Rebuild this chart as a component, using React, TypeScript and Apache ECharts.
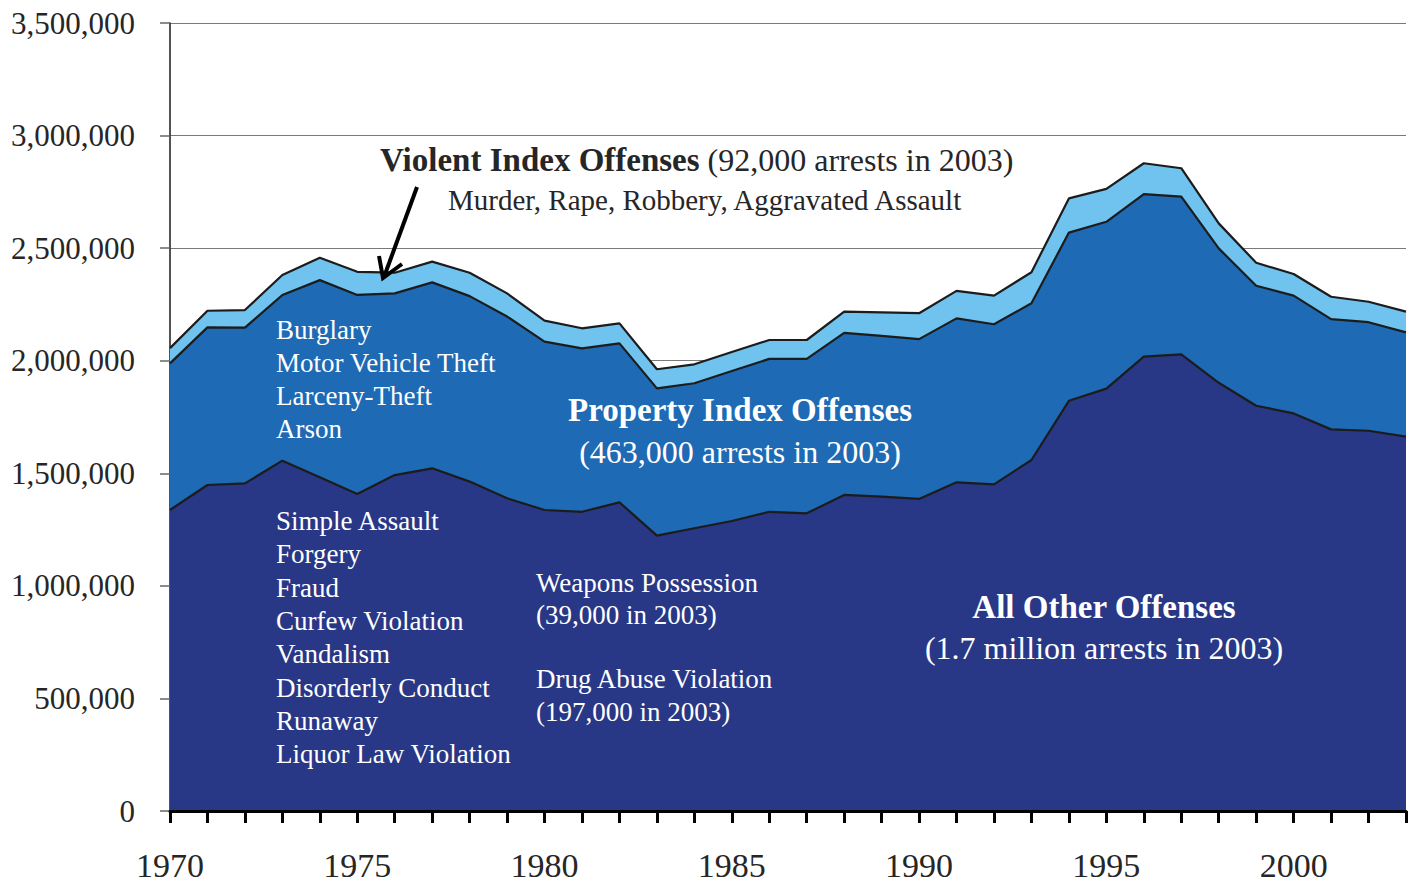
import React, { useEffect, useRef } from "react";
import * as echarts from "echarts";

const years = [
  "1970","1971","1972","1973","1974","1975","1976","1977","1978","1979",
  "1980","1981","1982","1983","1984","1985","1986","1987","1988","1989",
  "1990","1991","1992","1993","1994","1995","1996","1997","1998","1999",
  "2000","2001","2002","2003",
];

const allOther = [
  1337000, 1448000, 1455000, 1556000, 1482000, 1408000, 1492000, 1522000, 1463000, 1389000,
  1337000, 1329000, 1371000, 1223000, 1256000, 1288000, 1329000, 1322000, 1404000, 1396000,
  1386000, 1460000, 1451000, 1559000, 1822000, 1876000, 2018000, 2028000, 1902000, 1800000,
  1766000, 1695000, 1689000, 1663000,
];

const propertyIndex = [
  651000, 700000, 692000, 736000, 876000, 884000, 807000, 826000, 824000, 807000,
  748000, 726000, 706000, 654000, 644000, 666000, 679000, 686000, 720000, 714000,
  710000, 728000, 711000, 696000, 747000, 741000, 722000, 701000, 597000, 533000,
  523000, 490000, 482000, 463000,
];

const violentIndex = [
  68000, 74000, 78000, 89000, 99000, 103000, 92000, 92000, 104000, 103000,
  93000, 89000, 89000, 85000, 84000, 85000, 84000, 84000, 94000, 105000,
  115000, 122000, 127000, 138000, 152000, 146000, 137000, 126000, 111000, 102000,
  96000, 99000, 91000, 92000,
];

const FONT = "Liberation Serif";
const NAVY = "#283886";
const MID = "#1e6ab4";
const LIGHT = "#70c3ee";
const OUTLINE = "#1c1c1c";

const propertyList = ["Burglary", "Motor Vehicle Theft", "Larceny-Theft", "Arson"];
const otherList = [
  "Simple Assault", "Forgery", "Fraud", "Curfew Violation", "Vandalism",
  "Disorderly Conduct", "Runaway", "Liquor Law Violation",
];

export default function App() {
  const ref = useRef<HTMLDivElement>(null);

  useEffect(() => {
    document.body.style.margin = "0";
    if (!ref.current) return;
    const chart = echarts.init(ref.current, null, { renderer: "svg" });

    const whiteText = (x: number, y: number, text: string, size = 27, extra: any = {}) => ({
      type: "text",
      x,
      y,
      z: 100,
      style: {
        text,
        fill: "#ffffff",
        font: `${size}px "${FONT}"`,
        textVerticalAlign: "middle",
        ...extra,
      },
    });

    const graphics: any[] = [];
    propertyList.forEach((t, i) => graphics.push(whiteText(276, 330 + i * 33, t)));
    otherList.forEach((t, i) => graphics.push(whiteText(276, 521 + i * 33.3, t)));
    graphics.push(whiteText(536, 583, "Weapons Possession"));
    graphics.push(whiteText(536, 615, "(39,000 in 2003)"));
    graphics.push(whiteText(536, 679, "Drug Abuse Violation"));
    graphics.push(whiteText(536, 712, "(197,000 in 2003)"));
    graphics.push(
      whiteText(740, 410, "Property Index Offenses", 33, {
        font: `bold 33px "${FONT}"`,
        textAlign: "center",
      })
    );
    graphics.push(whiteText(740, 452, "(463,000 arrests in 2003)", 32, { textAlign: "center" }));
    graphics.push(
      whiteText(1104, 607, "All Other Offenses", 33, {
        font: `bold 33px "${FONT}"`,
        textAlign: "center",
      })
    );
    graphics.push(whiteText(1104, 648, "(1.7 million arrests in 2003)", 32, { textAlign: "center" }));

    graphics.push({
      type: "text",
      x: 380,
      y: 160,
      z: 100,
      style: {
        text: "{b|Violent Index Offenses}{r|(92,000 arrests in 2003)}",
        textVerticalAlign: "middle",
        rich: {
          b: { font: `bold 33px "${FONT}"`, fill: "#262626" },
          r: { font: `32px "${FONT}"`, fill: "#262626", padding: [0, 0, 0, 8] },
        },
      },
    });
    graphics.push({
      type: "text",
      x: 448,
      y: 200,
      z: 100,
      style: {
        text: "Murder, Rape, Robbery, Aggravated Assault",
        font: `29px "${FONT}"`,
        fill: "#262626",
        textVerticalAlign: "middle",
      },
    });
    // arrow
    graphics.push({
      type: "line",
      z: 100,
      shape: { x1: 417, y1: 187, x2: 384, y2: 277 },
      style: { stroke: "#000", lineWidth: 4 },
    });
    graphics.push({
      type: "polyline",
      z: 100,
      shape: { points: [[379, 256], [383, 278], [402, 264]] },
      style: { stroke: "#000", lineWidth: 4, fill: null },
    });

    chart.setOption({
      animation: false,
      grid: { left: 170, right: 8, top: 23, bottom: 73, containLabel: false },
      xAxis: {
        type: "category",
        data: years,
        boundaryGap: false,
        axisLine: { show: true, lineStyle: { color: "#000", width: 3 } },
        axisTick: { show: true, interval: 0, length: 12, lineStyle: { color: "#000", width: 3 } },
        axisLabel: {
          interval: 4,
          margin: 37,
          fontFamily: FONT,
          fontSize: 34,
          color: "#262626",
        },
        splitLine: { show: false },
        z: 10,
      },
      yAxis: {
        type: "value",
        min: 0,
        max: 3500000,
        interval: 500000,
        axisLine: { show: true, lineStyle: { color: "#1a1a1a", width: 1.5 } },
        axisTick: { show: true, length: 10, lineStyle: { color: "#666", width: 1.5 } },
        axisLabel: {
          margin: 35,
          fontFamily: FONT,
          fontSize: 31,
          color: "#262626",
          formatter: (v: number) => v.toLocaleString("en-US"),
        },
        splitLine: { show: true, lineStyle: { color: "#7a7a7a", width: 1.2 } },
      },
      series: [
        {
          name: "All Other Offenses",
          type: "line",
          stack: "total",
          data: allOther,
          symbol: "none",
          lineStyle: { color: OUTLINE, width: 2.2 },
          areaStyle: { color: NAVY, opacity: 1 },
          z: 3,
        },
        {
          name: "Property Index Offenses",
          type: "line",
          stack: "total",
          data: propertyIndex,
          symbol: "none",
          lineStyle: { color: OUTLINE, width: 2.2 },
          areaStyle: { color: MID, opacity: 1 },
          z: 2,
        },
        {
          name: "Violent Index Offenses",
          type: "line",
          stack: "total",
          data: violentIndex,
          symbol: "none",
          lineStyle: { color: OUTLINE, width: 2.2 },
          areaStyle: { color: LIGHT, opacity: 1 },
          z: 2,
        },
      ],
      graphic: graphics,
    });

    return () => chart.dispose();
  }, []);

  return <div ref={ref} style={{ width: 1414, height: 884 }} />;
}
